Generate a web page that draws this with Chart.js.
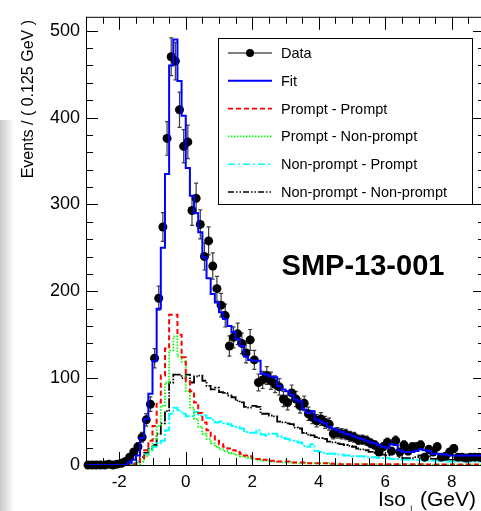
<!DOCTYPE html>
<html lang="en">
<head>
    <meta charset="UTF-8">
    <title>Iso fit - SMP-13-001</title>
    <style>
        html, body {
            margin: 0;
            padding: 0;
            background: #ffffff;
            overflow: hidden;
        }
        /* soft grey strip on the left edge of the original scan */
        .edge {
            position: absolute;
            left: 0;
            top: 120px;
            width: 14px;
            height: 391px;
            background: linear-gradient(to right, #c8c8c8, #ffffff);
        }
        .wrap {
            position: absolute;
            left: 0;
            top: 0;
            width: 500px;
            height: 511px;
        }
    </style>
    <script src="https://cdn.jsdelivr.net/npm/chart.js"></script>
</head>
<body>
    <div class="edge"></div>
    <div class="wrap"><canvas id="iso-chart" width="500" height="511"></canvas></div>

    <script>
        // binning: 96 bins of 0.125 GeV from -3 to 9
        const binLow = -3;
        const binWidth = 0.125;

        const xTicks = [-2, 0, 2, 4, 6, 8];
        const yTicks = [0, 100, 200, 300, 400, 500];

        const dataCounts = [
            0, 0, 0, 0, 0, 1, 0, 1, 2, 4,
            9, 15, 21, 32, 52, 70, 123, 192, 274, 376,
            470, 465, 409, 367, 372, 293, 307, 277, 240, 258,
            229, 203, 184, 172, 137, 147, 151, 140, 129, 144,
            121, 95, 98, 103, 97, 93, 90, 76, 72, 83,
            76, 68, 71, 59, 55, 51, 53, 49, 47, 36,
            37, 36, 35, 33, 32, 29, 29, 28, 25, 23,
            15, 21, 26, 16, 28, 15, 23, 16, 21, 21,
            23, 9, 18, 15, 21, 9, 10, 15, 19, 9,
            9, 8, 9, 9, 9, 8
        ];

        const fitValues = [
            0, 0, 0, 0, 0, 0, 0, 0, 0, 0,
            3, 6, 11, 31, 53, 82, 120, 180, 250, 335,
            460, 490, 442, 402, 342, 310, 290, 268, 239, 215,
            197, 187, 176, 168, 160, 153, 145, 137, 125, 121,
            120, 120, 105, 104, 102, 101, 91, 87, 85, 81,
            75, 73, 64, 60, 62, 52, 50, 48, 44, 42,
            40, 38, 36, 35, 33, 31, 30, 28, 26, 25,
            23, 21, 20, 24, 23, 17, 15, 15, 15, 16,
            18, 17, 16, 13, 13, 12, 12, 11, 11, 11,
            11, 11, 11, 11, 11, 11
        ];

        const promptPrompt = [
            0, 0, 0, 0, 0, 0, 0, 0, 0, 0,
            0.5, 1, 2, 8, 17, 28, 45, 72, 103, 134,
            173, 173, 150, 124, 97, 85, 72, 60, 49, 40,
            33, 28, 24, 21, 19, 17, 15, 13, 11, 10,
            8, 7, 6, 6, 5, 5, 4, 4, 4, 3,
            3, 3, 3, 2, 2, 2, 2, 2, 2, 1.5,
            1.5, 1, 1, 1, 1, 1, 1, 1, 1, 1,
            1, 0.8, 0.8, 0.8, 0.8, 0.8, 0.8, 0.8, 0.8, 0.8,
            0.8, 0.5, 0.5, 0.5, 0.5, 0.5, 0.5, 0.5, 0.5, 0.5,
            0.5, 0.5, 0.5, 0.5, 0.5, 0.5
        ];

        const promptNonPrompt = [
            0, 0, 0, 0, 0, 0, 0, 0, 0, 0,
            0, 0.5, 1, 4, 10, 18, 30, 45, 68, 95,
            132, 148, 125, 119, 85, 66, 53, 44, 36, 30,
            25, 21, 18, 16, 14, 13, 12, 10, 9, 8,
            7, 6, 5, 5, 4, 4, 4, 3, 3, 3,
            2, 2, 2, 2, 2, 2, 2, 2, 2, 1,
            1, 1, 1, 1, 1, 1, 1, 1, 1, 1,
            1, 0.5, 0.5, 0.5, 0.5, 0.5, 0.5, 0.5, 0.5, 0.5,
            0.5, 0.5, 0.5, 0.5, 0.5, 0.5, 0.5, 0.5, 0.5, 0.5,
            0.5, 0.5, 0.5, 0.5, 0.5, 0.5
        ];

        const nonPromptPrompt = [
            0, 0, 0, 0, 0, 0, 0, 0, 0, 0,
            1, 2, 4, 8, 12, 17, 21, 25, 28, 40,
            59, 66, 63, 59, 56, 56, 61, 57, 57, 54,
            52, 49, 50, 48, 47, 45, 44, 42, 38, 37,
            37, 40, 35, 34, 36, 36, 33, 31, 30, 28,
            27, 26, 22, 21, 24, 16, 15, 14, 13, 13,
            12, 12, 11, 11, 10, 10, 10, 9, 9, 9,
            8, 8, 8, 7, 7, 7, 6, 6, 6, 6,
            6, 5, 5, 5, 5, 5, 5, 4, 4, 4,
            4, 4, 4, 4, 4, 4
        ];

        const nonPromptNonPrompt = [
            0, 0, 0, 0, 0, 0, 0, 0, 0, 0,
            1, 2, 4, 9, 14, 19, 23, 36, 48, 62,
            95, 104, 104, 100, 104, 95, 102, 103, 97, 91,
            87, 89, 84, 83, 80, 78, 74, 72, 67, 66,
            68, 67, 59, 59, 57, 56, 50, 49, 48, 47,
            43, 42, 37, 35, 34, 32, 31, 30, 27, 26,
            25, 24, 23, 22, 21, 19, 18, 17, 15, 14,
            13, 12, 11, 16, 15, 9, 8, 8, 8, 9,
            11, 11, 10, 7, 7, 6, 6, 6, 6, 6,
            6, 6, 6, 6, 6, 6
        ];

        const FONT = "'Liberation Sans', Arial, Helvetica, sans-serif";

        // histogram outline: one point per bin low edge, plus the last high edge
        function steps(values) {
            const pts = values.map((v, k) => ({ x: binLow + k * binWidth, y: v }));
            pts.push({ x: binLow + values.length * binWidth, y: values[values.length - 1] });
            return pts;
        }

        const dataPoints = dataCounts.map((n, k) => ({ x: binLow + (k + 0.5) * binWidth, y: n }));
        const DATA_INDEX = 1;

        const errorBars = {
            id: 'errorBars',
            beforeDatasetDraw(chart, args) {
                if (args.index !== DATA_INDEX) return;
                const { ctx, scales: { x, y } } = chart;
                ctx.save();
                ctx.strokeStyle = '#3c3c3c';
                ctx.lineWidth = 1.2;
                dataPoints.forEach(p => {
                    const err = Math.sqrt(p.y);
                    if (!err) return;
                    const px = x.getPixelForValue(p.x);
                    const top = y.getPixelForValue(p.y + err);
                    const bot = y.getPixelForValue(Math.max(0, p.y - err));
                    ctx.beginPath();
                    ctx.moveTo(px, top); ctx.lineTo(px, bot);
                    ctx.moveTo(px - 2, top); ctx.lineTo(px + 2, top);
                    ctx.moveTo(px - 2, bot); ctx.lineTo(px + 2, bot);
                    ctx.stroke();
                });
                ctx.restore();
            }
        };

        // ROOT style frame, inward ticks, legend and labels
        const decorations = {
            id: 'decorations',
            afterDraw(chart) {
                const { ctx, chartArea: a, scales: { x, y } } = chart;
                ctx.save();
                ctx.strokeStyle = '#000';
                ctx.lineWidth = 1;
                ctx.strokeRect(a.left + 0.5, a.top + 0.5, a.right - a.left, a.bottom - a.top);

                ctx.beginPath();
                for (let v = 0; v <= y.max; v += 20) {
                    const py = Math.round(y.getPixelForValue(v)) + 0.5;
                    const len = v % 100 === 0 ? 12 : 7;
                    ctx.moveTo(a.left, py); ctx.lineTo(a.left + len, py);
                    ctx.moveTo(a.right, py); ctx.lineTo(a.right - len, py);
                }
                for (let v = -3; v <= 9; v += 0.5) {
                    const px = Math.round(x.getPixelForValue(v)) + 0.5;
                    const len = v % 2 === 0 ? 13 : 7;
                    ctx.moveTo(px, a.bottom); ctx.lineTo(px, a.bottom - len);
                    ctx.moveTo(px, a.top); ctx.lineTo(px, a.top + len);
                }
                ctx.stroke();

                // axis titles
                ctx.fillStyle = '#000';
                ctx.save();
                ctx.translate(29, 20);
                ctx.rotate(-Math.PI / 2);
                ctx.font = '16px ' + FONT;
                ctx.textAlign = 'right';
                ctx.textBaseline = 'middle';
                ctx.fillText('Events / ( 0.125 GeV )', 0, 0);
                ctx.restore();

                ctx.textBaseline = 'alphabetic';
                ctx.textAlign = 'left';
                ctx.font = '21px ' + FONT;
                ctx.fillText('Iso', 378, 506);
                ctx.font = '12px ' + FONT;
                ctx.fillText('\u22A5', 406, 514);
                ctx.font = '21px ' + FONT;
                ctx.fillText('(GeV)', 420, 506);

                ctx.font = 'bold 29px ' + FONT;
                ctx.textAlign = 'center';
                ctx.fillText('SMP-13-001', 363, 275);

                // legend
                const box = { l: 218.5, t: 38.5, w: 254, h: 166 };
                ctx.fillStyle = '#fff';
                ctx.fillRect(box.l, box.t, box.w, box.h);
                ctx.strokeStyle = '#000';
                ctx.lineWidth = 1;
                ctx.strokeRect(box.l, box.t, box.w, box.h);

                const entries = [
                    { text: 'Data', color: '#000', dash: [], w: 1.2, dot: true },
                    { text: 'Fit', color: '#0000ff', dash: [], w: 2 },
                    { text: 'Prompt - Prompt', color: '#ff0000', dash: [5, 3], w: 1.6 },
                    { text: 'Prompt - Non-prompt', color: '#00ff00', dash: [1.5, 1.5], w: 1.6 },
                    { text: 'Non-prompt - Prompt', color: '#00ffff', dash: [7, 3, 2, 3], w: 1.6 },
                    { text: 'Non-prompt - Non-prompt', color: '#000', dash: [6, 2, 1.5, 2, 1.5, 2], w: 1.4 }
                ];
                entries.forEach((e, i) => {
                    const ey = 53 + i * 27.8;
                    ctx.strokeStyle = e.color;
                    ctx.lineWidth = e.w;
                    ctx.setLineDash(e.dash);
                    ctx.beginPath();
                    ctx.moveTo(228, ey); ctx.lineTo(272, ey);
                    ctx.stroke();
                    ctx.setLineDash([]);
                    if (e.dot) {
                        ctx.fillStyle = '#000';
                        ctx.beginPath();
                        ctx.arc(250, ey, 4, 0, Math.PI * 2);
                        ctx.fill();
                    }
                    ctx.fillStyle = '#000';
                    ctx.font = '14.5px ' + FONT;
                    ctx.textAlign = 'left';
                    ctx.textBaseline = 'middle';
                    ctx.fillText(e.text, 281, ey + 1);
                });
                ctx.restore();
            }
        };

        function histLine(label, values, color, dash, width) {
            return {
                label: label,
                data: steps(values),
                borderColor: color,
                borderWidth: width,
                borderDash: dash,
                stepped: true,
                pointRadius: 0,
                fill: false,
                tension: 0
            };
        }

        new Chart(document.getElementById('iso-chart'), {
            type: 'line',
            data: {
                datasets: [
                    histLine('Fit', fitValues, '#0000ff', [], 2),
                    {
                        label: 'Data',
                        type: 'scatter',
                        data: dataPoints,
                        backgroundColor: '#000',
                        borderColor: '#000',
                        pointRadius: 4.5,
                        pointBorderWidth: 0,
                        showLine: false,
                        clip: 8
                    },
                    histLine('Prompt - Prompt', promptPrompt, '#ff0000', [5, 3], 2),
                    histLine('Prompt - Non-prompt', promptNonPrompt, '#00ff00', [1.5, 1.5], 1.8),
                    histLine('Non-prompt - Prompt', nonPromptPrompt, '#00ffff', [10, 2, 2, 2], 2),
                    histLine('Non-prompt - Non-prompt', nonPromptNonPrompt, '#000000', [10, 1.5, 1.5, 1.5, 1.5, 1.5], 1.8)
                ]
            },
            options: {
                responsive: false,
                animation: false,
                layout: { padding: { left: 0, top: 11, right: 15, bottom: 0 } },
                plugins: {
                    legend: { display: false },
                    tooltip: { enabled: false }
                },
                scales: {
                    x: {
                        type: 'linear',
                        min: -3,
                        max: 9,
                        grid: { display: false, drawTicks: false },
                        border: { display: false },
                        afterBuildTicks: s => { s.ticks = xTicks.map(v => ({ value: v })); },
                        afterFit: s => { s.height = 46; },
                        ticks: {
                            color: '#000',
                            padding: 7,
                            maxRotation: 0,
                            autoSkip: false,
                            font: { family: FONT, size: 17 }
                        }
                    },
                    y: {
                        type: 'linear',
                        min: 0,
                        max: 516,
                        grid: { display: false, drawTicks: false },
                        border: { display: false },
                        afterBuildTicks: s => { s.ticks = yTicks.map(v => ({ value: v })); },
                        afterFit: s => { s.width = 86; },
                        ticks: {
                            color: '#000',
                            padding: 6,
                            autoSkip: false,
                            font: { family: FONT, size: 18 }
                        }
                    }
                }
            },
            plugins: [errorBars, decorations]
        });
    </script>
</body>
</html>
